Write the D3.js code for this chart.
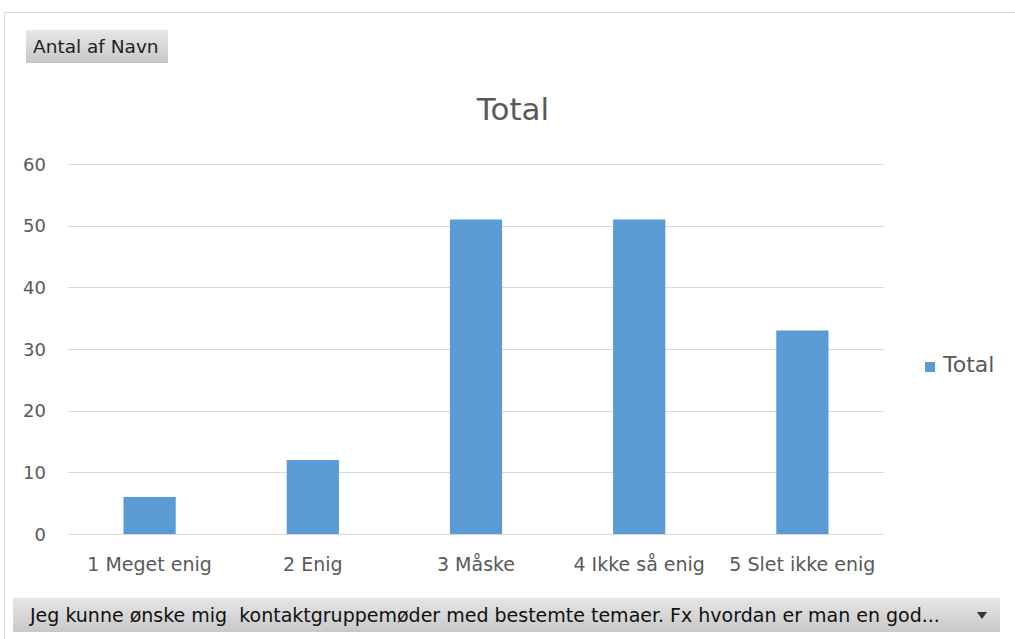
<!DOCTYPE html>
<html><head><meta charset="utf-8">
<script src="https://cdn.jsdelivr.net/npm/d3@7"></script>
<style>
html,body{margin:0;padding:0;background:#fff;}
svg{display:block;font-family:"DejaVu Sans",sans-serif;}
</style></head>
<body><svg id="c" width="1015" height="639"></svg>
<script>
const categories = ["1 Meget enig","2 Enig","3 Måske","4 Ikke så enig","5 Slet ikke enig"];
const values = [6, 12, 51, 51, 33];
const yTicks = [0,10,20,30,40,50,60];
const seriesName = "Total";
const fieldButton = "Antal af Navn";
const filterText = "Jeg kunne ønske mig  kontaktgruppemøder med bestemte temaer. Fx hvordan er man en god...";

const FONT = "'DejaVu Sans',sans-serif";
const svg = d3.select("#c");
const defs = svg.append("defs");
const g1 = defs.append("linearGradient").attr("id","btn").attr("x1",0).attr("y1",0).attr("x2",0).attr("y2",1);
g1.append("stop").attr("offset","0%").attr("stop-color","#e6e6e6");
g1.append("stop").attr("offset","100%").attr("stop-color","#c8c8c8");

// outer frame
svg.append("rect").attr("x",4.5).attr("y",12.5).attr("width",1020).attr("height",640)
  .attr("fill","#fff").attr("stroke","#d9d9d9");

// field button
svg.append("rect").attr("x",26).attr("y",30).attr("width",142).attr("height",33).attr("fill","url(#btn)");
svg.append("text").attr("x",33).attr("y",53).text(fieldButton)
  .attr("font-size",18.5).attr("fill","#222").attr("letter-spacing","0");

// title
svg.append("text").attr("x",513).attr("y",120).attr("text-anchor","middle")
  .attr("font-size",31).attr("fill","#595959").text(seriesName);

const x = d3.scaleBand().domain(categories).range([68,884]).paddingInner(0.68).paddingOuter(0.34);
const y = d3.scaleLinear().domain([0,60]).range([534,164]);

// gridlines
svg.append("g").selectAll("line").data(yTicks).join("line")
  .attr("x1",68).attr("x2",884).attr("y1",d=>Math.round(y(d))+0.5).attr("y2",d=>Math.round(y(d))+0.5)
  .attr("stroke","#d9d9d9").attr("stroke-width",1);

// y axis labels
const yAxis = d3.axisLeft(y).tickValues(yTicks).tickSize(0).tickPadding(0);
const ya = svg.append("g").attr("transform","translate(46,0)").call(yAxis);
ya.select(".domain").remove();
ya.selectAll("text").attr("font-size",18).attr("fill","#595959").attr("font-family",FONT)
  .attr("dy","0.35em");

// bars
svg.append("g").selectAll("rect").data(values).join("rect")
  .attr("x",(d,i)=>x(categories[i])).attr("width",x.bandwidth())
  .attr("y",d=>y(d)).attr("height",d=>y(0)-y(d)).attr("fill","#5b9bd5");

// x axis labels
const xAxis = d3.axisBottom(x).tickSize(0).tickPadding(0);
const xa = svg.append("g").attr("transform","translate(0,571)").call(xAxis);
xa.select(".domain").remove();
xa.selectAll("text").attr("font-size",19).attr("fill","#595959").attr("font-family",FONT)
  .attr("dy",0);

// legend
svg.append("rect").attr("x",925).attr("y",362).attr("width",10).attr("height",10).attr("fill","#5b9bd5");
svg.append("text").attr("x",943).attr("y",372).attr("font-size",22).attr("fill","#595959").text(seriesName);

// filter dropdown
svg.append("rect").attr("x",13).attr("y",598).attr("width",987).attr("height",34).attr("fill","url(#btn)");
svg.append("text").attr("x",30).attr("y",622).attr("font-size",19).attr("fill","#111")
  .style("white-space","pre").text(filterText);
svg.append("path").attr("d","M977,612 L987,612 L982,619 Z").attr("fill","#333");
</script></body></html>
